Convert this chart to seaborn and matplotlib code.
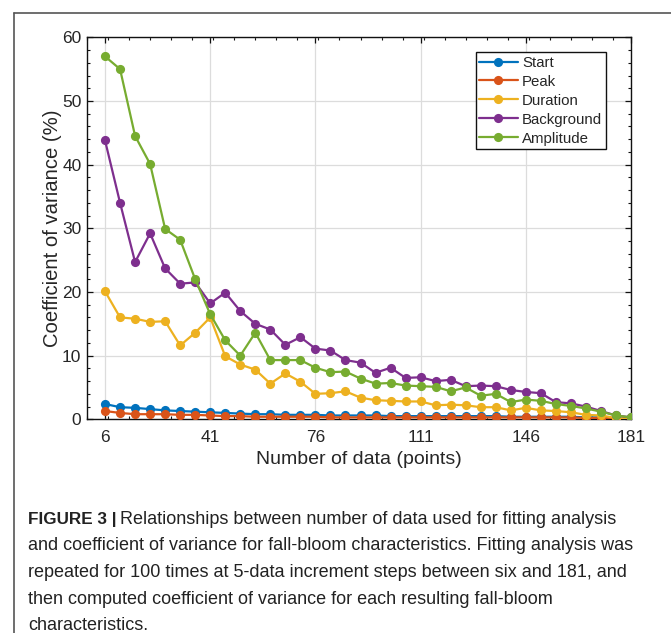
import matplotlib
matplotlib.use("Agg")
import matplotlib.pyplot as plt
from matplotlib.ticker import MultipleLocator, FixedLocator
from matplotlib.lines import Line2D
import seaborn as sns
import pandas as pd

# ---- data -------------------------------------------------------------
n_points = [6, 11, 16, 21, 26, 31, 36, 41, 46, 51,
            56, 61, 66, 71, 76, 81, 86, 91, 96, 101,
            106, 111, 116, 121, 126, 131, 136, 141, 146, 151,
            156, 161, 166, 171, 176, 181]

start = [2.4, 1.9, 1.8, 1.6, 1.4, 1.3, 1.2, 1.1, 1.0, 0.9,
         0.8, 0.8, 0.7, 0.7, 0.7, 0.6, 0.6, 0.6, 0.6, 0.5,
         0.5, 0.5, 0.5, 0.5, 0.5, 0.5, 0.5, 0.4, 0.4, 0.4,
         0.4, 0.4, 0.3, 0.3, 0.2, 0.2]
peak = [1.3, 1.0, 0.8, 0.8, 0.8, 0.7, 0.7, 0.6, 0.5, 0.5,
        0.4, 0.4, 0.4, 0.4, 0.4, 0.3, 0.3, 0.3, 0.3, 0.3,
        0.3, 0.3, 0.3, 0.3, 0.3, 0.3, 0.3, 0.3, 0.3, 0.3,
        0.3, 0.3, 0.2, 0.2, 0.1, 0.1]
duration = [20.1, 16.0, 15.8, 15.3, 15.4, 11.6, 13.6, 16.0, 9.9, 8.6,
            7.8, 5.6, 7.2, 5.9, 4.0, 4.1, 4.4, 3.4, 3.0, 2.9,
            2.8, 2.8, 2.2, 2.3, 2.2, 1.9, 1.9, 1.4, 1.8, 1.4,
            1.3, 1.1, 0.7, 0.6, 0.2, 0.2]
background = [43.8, 34.0, 24.7, 29.2, 23.7, 21.3, 21.5, 18.2, 19.9, 17.0,
              15.0, 14.1, 11.7, 12.9, 11.1, 10.8, 9.3, 8.9, 7.3, 8.1,
              6.5, 6.6, 6.0, 6.2, 5.2, 5.3, 5.2, 4.6, 4.3, 4.1,
              2.7, 2.5, 2.0, 1.3, 0.6, 0.3]
amplitude = [57.0, 55.0, 44.5, 40.1, 29.9, 28.2, 22.0, 16.5, 12.4, 10.0,
             13.6, 9.3, 9.3, 9.3, 8.1, 7.4, 7.5, 6.4, 5.6, 5.7,
             5.3, 5.2, 5.1, 4.4, 5.0, 3.7, 4.0, 2.7, 3.1, 2.9,
             2.4, 2.1, 1.7, 1.2, 0.6, 0.3]

series_names = ["Start", "Peak", "Duration", "Background", "Amplitude"]
series_values = [start, peak, duration, background, amplitude]
colors = ["#0072BD", "#D95319", "#EDB120", "#7E2F8E", "#77AC30"]

x_ticks = [6, 41, 76, 111, 146, 181]
y_ticks = [0, 10, 20, 30, 40, 50, 60]

caption_lines = [
    "Relationships between number of data used for fitting analysis",
    "and coefficient of variance for fall-bloom characteristics. Fitting analysis was",
    "repeated for 100 times at 5-data increment steps between six and 181, and",
    "then computed coefficient of variance for each resulting fall-bloom",
    "characteristics.",
]

# ---- long-form table ---------------------------------------------------
rows = []
for name, vals in zip(series_names, series_values):
    for xv, yv in zip(n_points, vals):
        rows.append({"n": xv, "cv": yv, "series": name})
df = pd.DataFrame(rows)

# ---- figure -----------------------------------------------------------
sns.set_style("white")
plt.rcParams["font.family"] = ["Liberation Sans", "DejaVu Sans"]

W, H = 671, 633
fig = plt.figure(figsize=(W / 100, H / 100), dpi=100)
ax = fig.add_axes([87 / W, 1 - 419.3 / H, (631 - 87) / W, (419.3 - 37.3) / H])

sns.lineplot(data=df, x="n", y="cv", hue="series", hue_order=series_names,
             palette=colors, marker="o", markersize=6.6, markeredgewidth=0,
             linewidth=1.6, sort=False, legend=False, ax=ax, zorder=3)

ax.set_xlim(0, 181)
ax.set_ylim(0, 60)
ax.xaxis.set_major_locator(FixedLocator(x_ticks))
ax.xaxis.set_minor_locator(MultipleLocator(7))
ax.yaxis.set_major_locator(FixedLocator(y_ticks))
ax.yaxis.set_minor_locator(MultipleLocator(2))
ax.set_xticklabels([str(t) for t in x_ticks])
ax.set_yticklabels([str(t) for t in y_ticks])

ax.grid(True, which="major", color="#dcdcdc", linewidth=0.9, zorder=0)
ax.set_axisbelow(True)
for s in ax.spines.values():
    s.set_visible(True)
    s.set_color("#111111")
    s.set_linewidth(1.0)
ax.tick_params(which="both", direction="in", top=True, right=True,
               bottom=True, left=True, color="#111111")
ax.tick_params(which="major", length=4, width=0.9, labelsize=12.5)
ax.tick_params(axis="y", which="major", pad=4)
ax.tick_params(axis="x", which="major", pad=8)
ax.tick_params(which="minor", length=2.5, width=0.8)

ax.set_xlabel("Number of data (points)", fontsize=14, labelpad=4)
ax.set_ylabel("Coefficient of variance (%)", fontsize=14.6, labelpad=0)

handles = [Line2D([0], [0], color=c, marker="o", markersize=6.6,
                  markeredgewidth=0, linewidth=1.6) for c in colors]
leg = ax.legend(handles, series_names, loc="upper right",
                bbox_to_anchor=(0.954, 0.9615), borderaxespad=0,
                fontsize=10.8, handlelength=2.55, handletextpad=0.3,
                labelspacing=0.33, borderpad=0.25, frameon=True,
                fancybox=False, framealpha=1)
leg.get_frame().set_edgecolor("#111111")
leg.get_frame().set_linewidth(1.0)

# page frame (top + left)
fig.add_artist(Line2D([14 / W, 1], [1 - 13 / H, 1 - 13 / H],
                      transform=fig.transFigure, color="#555555", lw=1.2))
fig.add_artist(Line2D([14 / W, 14 / W], [0, 1 - 13 / H],
                      transform=fig.transFigure, color="#555555", lw=1.2))

# caption
cap_family = ["Liberation Sans", "DejaVu Sans"]
cap_size = 13.0
line_y = [524, 550.5, 577, 603.5, 630]
fig.canvas.draw()
renderer = fig.canvas.get_renderer()
bold = fig.text(28 / W, 1 - line_y[0] / H, "FIGURE 3 |", fontsize=12.3,
                fontweight="bold", family=cap_family, va="baseline",
                color="#222222")
bb = bold.get_window_extent(renderer=renderer)
fig.text((bb.x1 + 4) / W, 1 - line_y[0] / H, caption_lines[0],
         fontsize=cap_size, family=cap_family, va="baseline", color="#222222")
for yy, txt in zip(line_y[1:], caption_lines[1:]):
    fig.text(28 / W, 1 - yy / H, txt, fontsize=cap_size, family=cap_family,
             va="baseline", color="#222222")

fig.savefig("out.png", dpi=100)
